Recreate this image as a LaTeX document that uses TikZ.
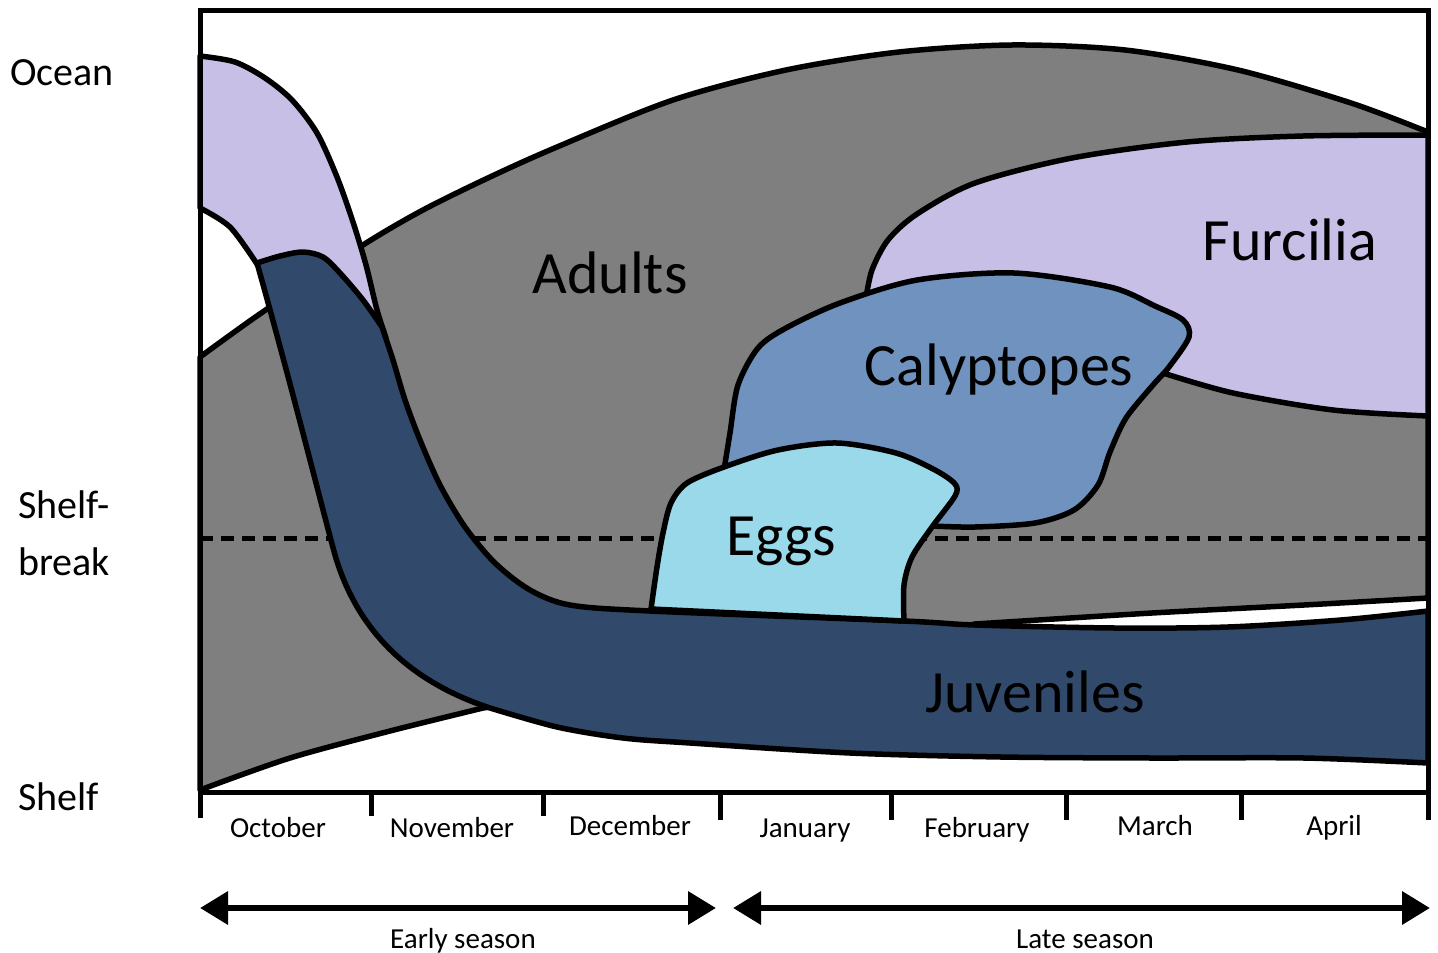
\documentclass[tikz,border=0pt]{standalone}
\usepackage{fontspec}
\setmainfont{Carlito}
\usetikzlibrary{arrows.meta}
\definecolor{adultgray}{HTML}{7F7F7F}
\definecolor{furcpurple}{HTML}{C8BFE7}
\definecolor{juvnavy}{HTML}{31496B}
\definecolor{calyblue}{HTML}{7092BE}
\definecolor{eggcyan}{HTML}{99D9EA}
\begin{document}
\begin{tikzpicture}[x=1pt, y=-1pt,
    stage/.style={draw=black, line width=5.5pt, line join=round},
    biglabel/.style={font=\fontsize{60}{72}\selectfont, anchor=base},
    sidelabel/.style={font=\fontsize{40}{57}\selectfont, anchor=base west, align=left, inner sep=0pt},
    month/.style={font=\fontsize{29}{35}\selectfont, anchor=base, inner sep=0pt},
    season/.style={line width=6.5pt, {Triangle[length=28pt,width=32pt]}-{Triangle[length=28pt,width=32pt]}}]
    \useasboundingbox (0,0) rectangle (1438,953);
    \filldraw[stage, fill=adultgray] plot[smooth] coordinates {(200,357) (233,333) (270,307) (363,245) (423,210) (490,177) (557,147) (673,100) (786,70) (899,52) (1012,45) (1125,50) (1238,70) (1351,103) (1428,132)}
        -- plot[smooth] coordinates {(1428,598) (1304,605) (1152,613) (975,624)}
        -- (700,680) -- plot[smooth] coordinates {(483,708) (390,731) (290,758) (200,790)} -- cycle;
    \coordinate (brk-w) at (200,538);
    \coordinate (brk-e) at (1428,538);
    \draw[line width=5pt, dash pattern=on 13pt off 8pt] (brk-w) -- (brk-e);
    \filldraw[stage, fill=furcpurple] plot[smooth] coordinates {(200,56) (235,62) (265,78) (292,100) (317,133) (337,177) (353,222) (366,265) (377,310) (386,338)}
        -- (320,300) -- plot[smooth] coordinates {(257,264) (230,227) (200,208)} -- cycle;
    \filldraw[stage, fill=juvnavy] plot[smooth] coordinates {(257,263) (280,256) (303,252) (323,257) (340,273) (363,300) (382,327)}
        -- plot[smooth] coordinates {(382,327) (393,360) (405,400) (420,440) (440,485) (465,527) (495,563) (530,590) (570,605) (650,611) (904,621) (975,625) (1115,628) (1228,627) (1341,620) (1428,611)}
        -- plot[smooth] coordinates {(1428,763) (1304,758) (1152,758) (1001,757) (850,753) (690,743) (623,738) (557,727) (490,708)}
        .. controls (420,685) and (360,640) .. (335,555) .. controls (320,500) and (290,380) .. (257,263) -- cycle;
    \filldraw[stage, fill=furcpurple] plot[smooth] coordinates {(866,298) (872,270) (888,240) (917,214) (975,183) (1072,158) (1187,142) (1303,136) (1428,135)}
        -- plot[smooth] coordinates {(1428,416) (1333,410) (1233,393) (1163,373)} -- (900,330) -- cycle;
    \filldraw[stage, fill=calyblue] plot[smooth] coordinates {(724,470) (730,433) (738,385) (758,348) (786,328) (840,303) (917,280) (1014,273) (1110,287) (1155,306) (1183,320) (1189,337) (1169,367) (1153,385) (1126,418) (1110,452) (1098,485) (1074,510) (1035,523) (975,527) (932,526)}
        -- (850,500) -- cycle;
    \filldraw[stage, fill=eggcyan] plot[smooth] coordinates {(651,609) (657,567) (663,533) (671,503) (687,483) (724,467) (778,450) (837,443) (896,453) (935,470) (955,484) (955,496) (932,527) (912,557) (904,585) (904,621)} -- cycle;
    \draw[line width=5pt] (200,10) rectangle (1428,792);
    \draw[line width=5pt] (200,792) -- (200,818);
    \draw[line width=5pt] (371,792) -- (371,816);
    \draw[line width=5pt] (543,792) -- (543,816);
    \draw[line width=5pt] (720,792) -- (720,820);
    \draw[line width=5pt] (891,792) -- (891,820);
    \draw[line width=5pt] (1066,792) -- (1066,820);
    \draw[line width=5pt] (1241,792) -- (1241,820);
    \draw[line width=5pt] (1428,792) -- (1428,820);
    \node[biglabel] (adults) at (610,293) {Adults};
    \node[biglabel] (furcilia) at (1290,260) {Furcilia};
    \node[biglabel] (calyptopes) at (999,385) {Calyptopes};
    \node[biglabel] (eggs) at (781,555) {Eggs};
    \node[biglabel] (juveniles) at (1035,712) {Juveniles};
    \node[sidelabel] (ocean) at (10,85) {Ocean};
    \node[sidelabel] (shelfbreak) at (18,575) {Shelf-\\break};
    \node[sidelabel] (shelf) at (18,810) {Shelf};
    \node[month] (oct) at (278,837) {October};
    \node[month] (nov) at (452,837) {November};
    \node[month] (dec) at (630,835) {December};
    \node[month] (jan) at (805,837) {January};
    \node[month] (feb) at (977,837) {February};
    \node[month] (mar) at (1155,835) {March};
    \node[month] (apr) at (1334,835) {April};
    \coordinate (early-w) at (200,908);
    \coordinate (early-e) at (716,908);
    \coordinate (late-w) at (733,908);
    \coordinate (late-e) at (1430,908);
    \draw[season] (early-w) -- (early-e);
    \draw[season] (late-w) -- (late-e);
    \node[month] (early) at (463,948) {Early season};
    \node[month] (late) at (1085,948) {Late season};
\end{tikzpicture}
\end{document}
